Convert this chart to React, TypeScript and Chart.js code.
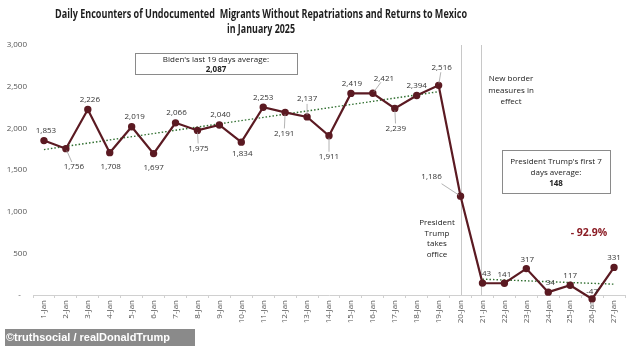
import { useEffect, useRef } from 'react';
import { Chart, registerables } from 'chart.js';
Chart.register(...registerables);

const days = ['1-Jan','2-Jan','3-Jan','4-Jan','5-Jan','6-Jan','7-Jan','8-Jan','9-Jan','10-Jan','11-Jan','12-Jan','13-Jan','14-Jan','15-Jan','16-Jan','17-Jan','18-Jan','19-Jan','20-Jan','21-Jan','22-Jan','23-Jan','24-Jan','25-Jan','26-Jan','27-Jan'];
const encounters = [1853,1756,2226,1708,2019,1697,2066,1975,2040,1834,2253,2191,2137,1911,2419,2421,2239,2394,2516,1186,143,141,317,34,117,-47,331];
const pointLabels = ['1,853','1,756','2,226','1,708','2,019','1,697','2,066','1,975','2,040','1,834','2,253','2,191','2,137','1,911','2,419','2,421','2,239','2,394','2,516','1,186','43','141','317','34','117','-47','331'];
const bidenTrend = [1745, 2440]; // 1-Jan, 19-Jan
const trumpTrend = [190, 130]; // 21-Jan, 27-Jan
const yTicks = [0, 500, 1000, 1500, 2000, 2500, 3000];
const titleLines = ['Daily Encounters of Undocumented  Migrants Without Repatriations and Returns to Mexico', 'in January 2025'];
const bidenBox = ["Biden's last 19 days average:", '2,087'];
const trumpBox = ["President Trump's first 7", 'days average:', '148'];
const borderNote = ['New border', 'measures in', 'effect'];
const officeNote = ['President', 'Trump', 'takes', 'office'];
const changeNote = '- 92.9%';
const watermark = '©truthsocial / realDonaldTrump';

// label offsets relative to point [dx, dy, leader]
const labelOffsets: [number, number, boolean][] = [
  [2,-10,false],[8,18,true],[2,-10,false],[1,14,false],[3,-10,false],[0,14,false],[1,-10,false],[1,18,true],[1,-10,false],[1,12,false],
  [0,-10,false],[-1,21,true],[0,-18,true],[0,21,true],[1,-10,false],[11,-15,true],[1,20,true],[0,-10,false],[3,-18,true],[-29,-19,true],
  [4,-9,false],[0,-9,false],[1,-9,false],[2,-9,false],[0,-10,false],[0,-7,false],[0,-10,false]
];

const FONT = "'Open Sans', sans-serif";
const MAROON = '#5b1a22';
const GREEN = '#2f6e2f';

export default function App() {
  const ref = useRef<HTMLCanvasElement>(null);
  useEffect(() => {
    document.body.style.margin = '0';
    const canvas = ref.current!;
    const bidenData = days.map((_, i) => (i === 0 ? bidenTrend[0] : i === 18 ? bidenTrend[1] : null));
    const trumpData = days.map((_, i) => (i === 20 ? trumpTrend[0] : i === 26 ? trumpTrend[1] : null));

    const annot = {
      id: 'annot',
      beforeDatasetsDraw(chart: any) {
        const { ctx, chartArea, scales } = chart;
        const x = scales.x;
        ctx.save();
        ctx.strokeStyle = '#c8c8c8';
        ctx.lineWidth = 1;
        [19, 19.93].forEach((v) => {
          const px = Math.round(x.getPixelForValue(v)) + 0.5;
          ctx.beginPath();
          ctx.moveTo(px, chartArea.top);
          ctx.lineTo(px, chartArea.bottom);
          ctx.stroke();
        });
        ctx.restore();
      },
      afterDatasetsDraw(chart: any) {
        const { ctx } = chart;
        const meta = chart.getDatasetMeta(0);
        ctx.save();
        ctx.font = `8px ${FONT}`;
        ctx.textAlign = 'center';
        ctx.textBaseline = 'middle';
        meta.data.forEach((pt: any, i: number) => {
          const [dx, dy, leader] = labelOffsets[i];
          const lx = pt.x + dx;
          const ly = pt.y + dy;
          if (leader) {
            const ex = lx - pt.x;
            const ey = ly - pt.y;
            const len = Math.hypot(ex, ey);
            const ux = ex / len, uy = ey / len;
            const stop = Math.abs(dx) > 15 ? 12 : 5;
            ctx.strokeStyle = '#a0a0a0';
            ctx.lineWidth = 0.8;
            ctx.beginPath();
            ctx.moveTo(pt.x + ux * 2, pt.y + uy * 2);
            ctx.lineTo(lx - ux * stop, ly - uy * stop);
            ctx.stroke();
          }
          ctx.fillStyle = '#333';
          ctx.fillText(pointLabels[i], lx, ly);
        });

        // Title
        ctx.fillStyle = '#1e1e1e';
        ctx.font = `bold 12px ${FONT}`;
        const tcx = 261;
        titleLines.forEach((t, k) => {
          const w = ctx.measureText(t).width;
          const target = k === 0 ? 412 : 68;
          const sx = w > target ? target / w : 1;
          ctx.save();
          ctx.translate(tcx, 15 + k * 15);
          ctx.scale(sx, 1);
          ctx.fillText(t, 0, 0);
          ctx.restore();
        });

        // Biden box
        ctx.fillStyle = '#fff';
        ctx.strokeStyle = '#8a8a8a';
        ctx.lineWidth = 1;
        ctx.fillRect(135.5, 53.5, 162, 21);
        ctx.strokeRect(135.5, 53.5, 162, 21);
        ctx.fillStyle = '#222';
        ctx.font = `8px ${FONT}`;
        ctx.fillText(bidenBox[0], 216, 59.5);
        ctx.font = `bold 8px ${FONT}`;
        ctx.fillText(bidenBox[1], 216, 69.5);

        // Trump box
        ctx.fillStyle = '#fff';
        ctx.fillRect(502.5, 150.5, 108, 43);
        ctx.strokeRect(502.5, 150.5, 108, 43);
        ctx.fillStyle = '#222';
        ctx.font = `8px ${FONT}`;
        ctx.fillText(trumpBox[0], 556, 162);
        ctx.fillText(trumpBox[1], 556, 173);
        ctx.font = `bold 8px ${FONT}`;
        ctx.fillText(trumpBox[2], 556, 184);

        // notes
        ctx.font = `8px ${FONT}`;
        ctx.fillStyle = '#222';
        borderNote.forEach((t, k) => ctx.fillText(t, 511, 79 + k * 11.5));
        officeNote.forEach((t, k) => ctx.fillText(t, 437, 223 + k * 10.5));
        ctx.font = `bold 10.5px ${FONT}`;
        ctx.fillStyle = '#8b1c24';
        ctx.fillText(changeNote, 589, 233);

        // watermark
        ctx.fillStyle = 'rgba(125,125,125,0.9)';
        ctx.fillRect(5, 329, 190, 17);
        ctx.fillStyle = '#fff';
        ctx.textAlign = 'left';
        ctx.font = "bold 11px 'Liberation Sans', Arial, sans-serif";
        ctx.fillText(watermark, 6, 338);
        ctx.restore();
      },
    };

    const chart = new Chart(canvas, {
      type: 'line',
      data: {
        labels: days,
        datasets: [
          {
            data: encounters,
            borderColor: MAROON,
            backgroundColor: MAROON,
            borderWidth: 2.2,
            pointRadius: 2.6,
            pointBackgroundColor: MAROON,
            pointBorderColor: MAROON,
            clip: false as any,
            tension: 0,
          },
          {
            data: bidenData,
            borderColor: GREEN,
            borderWidth: 1.4,
            borderDash: [1.5, 2],
            pointRadius: 0,
            spanGaps: true,
          },
          {
            data: trumpData,
            borderColor: GREEN,
            borderWidth: 1.4,
            borderDash: [1.5, 2],
            pointRadius: 0,
            spanGaps: true,
          },
        ],
      },
      options: {
        responsive: false,
        animation: false,
        layout: { padding: { top: 45, right: 9, left: 0, bottom: 0 } },
        plugins: { legend: { display: false }, title: { display: false }, tooltip: { enabled: false } },
        scales: {
          x: {
            offset: true,
            grid: { offset: true, drawOnChartArea: false, color: '#d0d0d0', tickLength: 3 },
            border: { color: '#d0d0d0' },
            ticks: { maxRotation: 90, minRotation: 90, padding: 2, color: '#555', font: { family: FONT, size: 8 } },
            afterFit: (s: any) => { s.height = 51; },
          },
          y: {
            min: 0,
            max: 3000,
            afterBuildTicks: (s: any) => { s.ticks = yTicks.map((v) => ({ value: v })); },
            grid: { display: false, drawTicks: false },
            border: { display: false },
            ticks: {
              padding: 6,
              color: '#555',
              font: { family: FONT, size: 8 },
              callback: (v: any) => (Number(v) === 0 ? '-   ' : Number(v).toLocaleString('en-US')),
            },
            afterFit: (s: any) => { s.width = 33; },
          },
        },
      },
      plugins: [annot],
    });
    return () => chart.destroy();
  }, []);
  return (
    <div style={{ position: 'fixed', left: 0, top: 0, width: 634, height: 346, background: '#fff' }}>
      <canvas ref={ref} width={634} height={346} style={{ display: 'block' }} />
    </div>
  );
}
